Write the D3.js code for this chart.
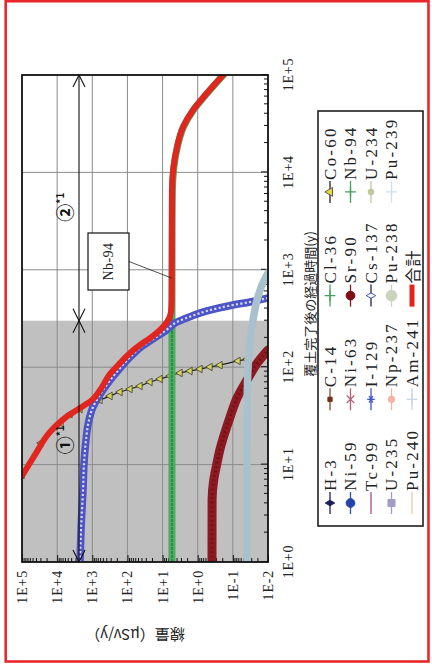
<!DOCTYPE html>
<html><head><meta charset="utf-8">
<script src="https://cdnjs.cloudflare.com/ajax/libs/d3/7.8.5/d3.min.js"></script>
<style>html,body{margin:0;padding:0;background:#fff;}svg{display:block;}</style>
</head><body>
<svg id="chart" width="432" height="665"></svg>
<script>
// ---------- DATA ----------
const timeTicks = [1, 10, 100, 1000, 10000, 100000];
const timeTickLabels = ["1E+0", "1E+1", "1E+2", "1E+3", "1E+4", "1E+5"];
const doseTicks = [1e5, 1e4, 1e3, 1e2, 1e1, 1e0, 1e-1, 1e-2];
const doseTickLabels = ["1E+5", "1E+4", "1E+3", "1E+2", "1E+1", "1E+0", "1E-1", "1E-2"];
const xTitle = "覆土完了後の経過時間(y)";
const yTitle = "線量（μSv/y）";

const legendNames = ["H-3","C-14","Cl-36","Co-60","Ni-59","Ni-63","Sr-90","Nb-94","Tc-99","I-129",
  "Cs-137","U-234","U-235","Np-237","Pu-238","Pu-239","Pu-240","Am-241","合計"];

// [years, μSv/y]
const co60 = [[7.8,1e5],[16.7,28800],[26.7,7760],[33.1,4300],[37.2,2230],[41.9,1160],[46.1,603],
  [50.6,313],[55.6,163],[59.7,84.5],[64.1,43.9],[70.5,22.8],[75.7,11.8],[81.3,6.14],[87.2,3.19],
  [91.4,1.66],[95.9,0.86],[100.5,0.447],[105,0.232],[116,0.0713],[121,0.0395]];
const sr90 = [[1,0.392],[4.33,0.39],[6.95,0.35],[9.9,0.29],[14.1,0.235],[21.1,0.17],[30.8,0.12],
  [48.3,0.076],[73.9,0.0395],[113,0.0192],[150,0.01]];
const nb94 = [[1,5.4],[10,5.4],[100,5.4],[400,5.4],[1000,5.38],[3000,5.35],[6590,5.25],[18200,3.8],
  [29200,2.55],[43700,1.32],[65300,0.53],[100000,0.185]];
const cs137 = [[1,2230],[2.13,2094],[5.49,1837],[10.1,1722],[17.9,1510],[25.5,1325],[39,954],
  [54.3,565],[75.7,293],[100.5,152],[130,79],[161,41.1],[195,18.7],[235,8.53],[291,3.88],
  [336,1.45],[378,0.543],[435,0.0989],[467,0.0325],[514,0.01]];
const am241 = [[1,0.0395],[10,0.0395],[46,0.039],[100,0.037],[190,0.0325],[305,0.0267],
  [490,0.0205],[698,0.0148],[927,0.01]];
const total = [[7.64,1e5],[12.6,42700],[21.6,15960],[30.1,5970],[38.1,2230],[46.1,1020],[58.3,603],
  [85.2,313],[110,163],[140,84.5],[169,43.9],[199,22.8],[241,11.8],[291,7.48],[369,5.75],[500,5.5],
  [1000,5.45],[3000,5.4],[6590,5.38],[18200,3.88],[29200,2.62],[43700,1.36],[65300,0.543],[100000,0.19]];

const periodBounds = [1, 300, 100000];
const periodLabels = ["①", "②"];
const periodLabelTimes = [18, 4400];
const calloutLabel = "Nb-94";
const calloutTarget = [820, 5.4];

// ---------- STYLES (not data) ----------
const legendStyles = {
  "H-3":   {c:"#1c1f5e", m:"diamond", fill:"#1c1f5e", s:26},
  "C-14":  {c:"#8a4a2a", m:"square",  fill:"#6e3218", s:18},
  "Cl-36": {c:"#45a060", m:"plus",    s:40},
  "Co-60": {c:"#222222", m:"triangle",fill:"#e2df3c", stroke:"#555", s:34},
  "Ni-59": {c:"#3050a8", m:"circle",  fill:"#2443a6", s:60},
  "Ni-63": {c:"#b86070", m:"times",   s:40},
  "Sr-90": {c:"#8a1420", m:"circle",  fill:"#7e0e18", s:60},
  "Nb-94": {c:"#45a060", m:"plus",    s:40},
  "Tc-99": {c:"#b04a90", m:null},
  "I-129": {c:"#3d56c4", m:"asterisk",s:40},
  "Cs-137":{c:"#1c1f5e", m:"diamond", fill:"#fff", stroke:"#4450c0", s:26},
  "U-234": {c:"#c4c89a", m:"circle",  fill:"#c4c89a", s:26},
  "U-235": {c:"#a49cc6", m:"square",  fill:"#a49cc6", s:50},
  "Np-237":{c:"#f2b4a8", m:"circle",  fill:"#f2b4a8", s:34},
  "Pu-238":{c:"#c8d4bc", m:"circle",  fill:"#c8d4bc", s:90},
  "Pu-239":{c:"#d0deee", m:"plus",    s:40},
  "Pu-240":{c:"#f2c8a8", m:null},
  "Am-241":{c:"#c4d4ea", m:"plus",    s:40},
  "合計":   {c:"#e2231c", m:null, w:5}
};

const svg = d3.select("#chart");
svg.append("rect").attr("x",5.7).attr("y",1.2).attr("width",422.8).attr("height",660.3)
  .attr("fill","none").attr("stroke","#e8262b").attr("stroke-width",2.6);

// chart is drawn in its original orientation, then turned a quarter left
const root = svg.append("g").attr("transform","translate(0,665) rotate(-90)");
const U0 = 103, U1 = 590, V0 = 22, V1 = 268;
const x = d3.scaleLog().domain([1,1e5]).range([U0,U1]);
const y = d3.scaleLog().domain([1e5,1e-2]).range([V0,V1]);
const serif = "'Liberation Serif','Times New Roman',serif";
const cjk = "'Noto Sans CJK JP','Noto Sans',sans-serif";

// shaded period
root.append("rect").attr("x",x(periodBounds[0])).attr("y",V0)
  .attr("width",x(periodBounds[1])-x(periodBounds[0])).attr("height",V1-V0).attr("fill","#c0c0c0");

// grid
root.append("g").selectAll("line").data(timeTicks.slice(1,-1)).join("line")
  .attr("x1",d=>x(d)).attr("x2",d=>x(d)).attr("y1",V0).attr("y2",V1)
  .attr("stroke","#8c8c8c").attr("stroke-width",1);
root.append("g").selectAll("line").data(doseTicks.slice(1,-1)).join("line")
  .attr("y1",d=>y(d)).attr("y2",d=>y(d)).attr("x1",U0).attr("x2",U1)
  .attr("stroke","#8c8c8c").attr("stroke-width",1);

// axes
const minorTime = [];
for (let e=0;e<5;e++) for (let k=1;k<10;k++) minorTime.push(k*Math.pow(10,e));
minorTime.push(1e5);
const minorDose = [];
for (let e=-2;e<5;e++) for (let k=1;k<10;k++) minorDose.push(k*Math.pow(10,e));
minorDose.push(1e5);

const xAxis = d3.axisBottom(x).tickValues(minorTime).tickSize(-4).tickPadding(15)
  .tickFormat(d=>{const i=timeTicks.indexOf(d);return i>=0?timeTickLabels[i]:"";});
const gx = root.append("g").attr("transform",`translate(0,${V1})`).call(xAxis);
const yAxis = d3.axisLeft(y).tickValues(minorDose).tickSize(-4).tickPadding(8)
  .tickFormat(d=>{const i=doseTicks.indexOf(d);return i>=0?doseTickLabels[i]:"";});
const gy = root.append("g").attr("transform",`translate(${U0},0)`).call(yAxis);
[gx,gy].forEach(g=>{
  g.select(".domain").remove();
  g.selectAll(".tick line").attr("stroke","#111").attr("stroke-width",1);
  g.selectAll("text").attr("font-family",serif).attr("font-size",14).attr("fill","#222")
    .attr("letter-spacing",0.8);
});
gx.selectAll(".tick line").filter(d=>timeTicks.includes(d)).attr("y2",-7);
gy.selectAll(".tick line").filter(d=>doseTicks.includes(d)).attr("x2",7);

root.append("text").attr("transform","translate(30,135) rotate(-90)").attr("text-anchor","middle")
  .attr("dominant-baseline","central").attr("font-family",cjk).attr("font-size",15)
  .attr("fill","#222").text(yTitle);

// series
root.append("clipPath").attr("id","plotclip").append("rect")
  .attr("x",U0).attr("y",V0).attr("width",U1-U0).attr("height",V1-V0);
const plot = root.append("g").attr("clip-path","url(#plotclip)");
const line = d3.line().x(d=>x(d[0])).y(d=>y(d[1])).curve(d3.curveMonotoneX);

function band(data, color, width, overlay){
  plot.append("path").attr("d",line(data)).attr("fill","none").attr("stroke",color)
    .attr("stroke-width",width).attr("stroke-linejoin","round").attr("stroke-linecap","round");
  if (overlay) plot.append("path").attr("d",line(data)).attr("fill","none")
    .attr("stroke",overlay.c).attr("stroke-width",overlay.w).attr("stroke-dasharray",overlay.dash);
}
// Co-60
plot.append("path").attr("d",line(co60)).attr("fill","none").attr("stroke","#222").attr("stroke-width",1.2);
plot.append("g").selectAll("path").data(co60).join("path")
  .attr("transform",d=>`translate(${x(d[0])},${y(d[1])})`)
  .attr("d",d3.symbol().type(d3.symbolTriangle).size(24))
  .attr("fill","#d6d65e").attr("stroke","#3a3a20").attr("stroke-width",0.8);
// Sr-90
band(sr90,"#8c1a22",9,{c:"#6e1016",w:3,dash:"1.5,3"});
// Nb-94
band(nb94,"#4dab5e",7,{c:"#2f8c42",w:2,dash:"3,1"});
// Cs-137
band(cs137,"#4c54c6",7.5,{c:"#d6d8f4",w:2.2,dash:"2.2,2.2"});
// Am-241
band(am241,"#a9c0cd",7.5);
// total
band(total,"#e1261f",6);

// frame
root.append("rect").attr("x",U0).attr("y",V0).attr("width",U1-U0).attr("height",V1-V0)
  .attr("fill","none").attr("stroke","#111").attr("stroke-width",1.8);

// period arrows
const AV = 79, AL = 12, AW = 6;
const ann = root.append("g").attr("stroke","#111").attr("fill","none").attr("stroke-width",1.1);
for (let i=0;i<periodBounds.length-1;i++){
  const a = x(periodBounds[i]), b = x(periodBounds[i+1]);
  ann.append("line").attr("x1",a).attr("x2",b).attr("y1",AV).attr("y2",AV);
  ann.append("path").attr("d",`M${a+AL},${AV-AW}L${a},${AV}L${a+AL},${AV+AW}`);
  ann.append("path").attr("d",`M${b-AL},${AV-AW}L${b},${AV}L${b-AL},${AV+AW}`);
  const t = root.append("text").attr("x",x(periodLabelTimes[i])).attr("y",72)
    .attr("text-anchor","middle")
    .attr("font-family",cjk).attr("font-weight","bold").attr("font-size",18).attr("fill","#111");
  t.append("tspan").text(periodLabels[i]);
  t.append("tspan").attr("font-size",10).attr("dy",-8).text("*1");
}

// Nb-94 callout
const cb = {u:375, v:88, w:57, h:41};
root.append("line").attr("x1",cb.u+cb.w/2).attr("y1",cb.v+cb.h)
  .attr("x2",x(calloutTarget[0])).attr("y2",y(calloutTarget[1]))
  .attr("stroke","#222").attr("stroke-width",0.8);
root.append("rect").attr("x",cb.u).attr("y",cb.v).attr("width",cb.w).attr("height",cb.h)
  .attr("fill","#fff").attr("stroke","#111").attr("stroke-width",1.2);
root.append("text").attr("x",cb.u+cb.w/2).attr("y",cb.v+cb.h/2).attr("text-anchor","middle")
  .attr("dominant-baseline","central").attr("font-family",serif).attr("font-size",14)
  .attr("letter-spacing",0.4).attr("fill","#222").text(calloutLabel);

// legend
const LB = {u:139, v:318, w:415, h:105};
root.append("rect").attr("x",LB.u).attr("y",LB.v).attr("width",LB.w).attr("height",LB.h)
  .attr("fill","#fff").attr("stroke","#111").attr("stroke-width",1.5);
const symMap = {diamond:d3.symbolDiamond, square:d3.symbolSquare, circle:d3.symbolCircle,
  triangle:d3.symbolTriangle, plus:d3.symbolPlus||d3.symbolCross, times:d3.symbolTimes||d3.symbolCross,
  asterisk:d3.symbolAsterisk||d3.symbolCross};
const strokeSyms = ["plus","times","asterisk"];
legendNames.forEach((name,i)=>{
  const st = legendStyles[name];
  const r = Math.floor(i/4), c = i%4;
  const cu = 162 + c*103.7, cv = 330 + r*20.5;
  const g = root.append("g");
  g.append("line").attr("x1",cu-11).attr("x2",cu+11).attr("y1",cv).attr("y2",cv)
    .attr("stroke",st.c).attr("stroke-width",st.w||1.3);
  if (st.m){
    const p = g.append("path").attr("transform",`translate(${cu},${cv})`)
      .attr("d",d3.symbol().type(symMap[st.m]).size(st.s));
    if (strokeSyms.includes(st.m)) p.attr("fill","none").attr("stroke",st.c).attr("stroke-width",1.3);
    else p.attr("fill",st.fill).attr("stroke",st.stroke||st.fill).attr("stroke-width",1);
  }
  const isCJK = /[^\x00-\x7f]/.test(name);
  g.append("text").attr("x",cu+12).attr("y",cv).attr("dominant-baseline","central")
    .attr("font-family",isCJK?cjk:serif).attr("font-size",isCJK?16:17)
    .attr("letter-spacing",isCJK?1:2.2).attr("fill","#222").text(name);
});

// axis title (after legend so it stays fully visible)
root.append("text").attr("x",361).attr("y",309).attr("text-anchor","middle")
  .attr("dominant-baseline","central").attr("font-family",cjk).attr("font-size",13)
  .attr("fill","#222").text(xTitle);
</script>
</body></html>
